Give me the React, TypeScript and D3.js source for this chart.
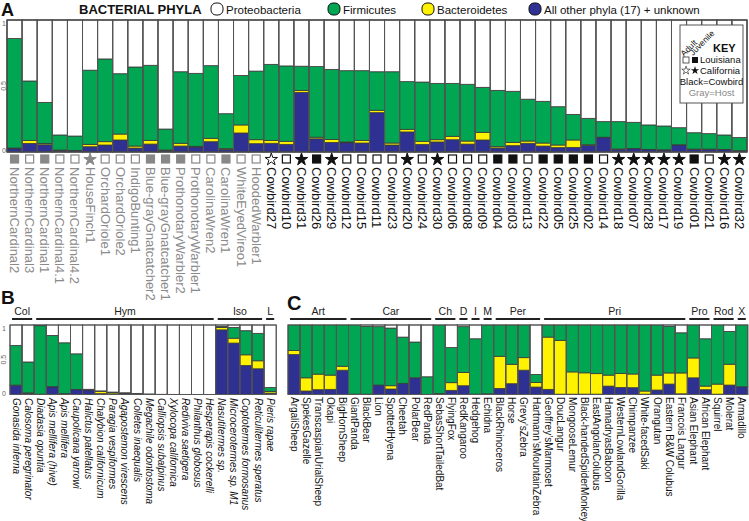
import React from 'react';
import * as d3 from 'd3';

const W = 749;
const H = 521;
const FONT = '"Liberation Sans", Arial, sans-serif';
const C_OTHER = '#2e3192';
const C_BACT = '#fff200';
const C_FIRM = '#00a651';
const C_PROTEO = '#ffffff';
const STROKE = '#3a3a3a';

// ---------- Panel A ----------
const aLabels = [
  'NorthernCardinal2', 'NorthernCardinal3', 'NorthernCardinal1', 'NorthernCardinal4.1', 'NorthernCardinal4.2',
  'HouseFinch1', 'OrchardOriole1', 'OrchardOriole2', 'IndigoBunting1', 'Blue-grayGnatcatcher2',
  'Blue-grayGnatcatcher1', 'ProthonotaryWarbler2', 'ProthonotaryWarbler1', 'CarolinaWren2', 'CarolinaWren1',
  'WhiteEyedVireo1', 'HoodedWarbler1',
  'Cowbird27', 'Cowbird10', 'Cowbird31', 'Cowbird26', 'Cowbird29', 'Cowbird12', 'Cowbird15', 'Cowbird11',
  'Cowbird23', 'Cowbird20', 'Cowbird24', 'Cowbird30', 'Cowbird06', 'Cowbird08', 'Cowbird09', 'Cowbird04',
  'Cowbird03', 'Cowbird13', 'Cowbird22', 'Cowbird05', 'Cowbird25', 'Cowbird02', 'Cowbird14', 'Cowbird18',
  'Cowbird07', 'Cowbird28', 'Cowbird17', 'Cowbird19', 'Cowbird01', 'Cowbird21', 'Cowbird16', 'Cowbird32',
];
// GF gray filled sq, GO gray outline sq, GS gray star, WS white sq, BS black sq, WT white star, BT black star
const aMarkers = [
  'GF', 'GO', 'GF', 'GO', 'GO', 'GS', 'GO', 'GO', 'GO', 'GF', 'GF', 'GF', 'GO', 'GO', 'GF', 'GO', 'GO',
  'WT', 'WS', 'BT', 'BS', 'BT', 'WS', 'WS', 'WS', 'WS', 'BT', 'WS', 'BT', 'WS', 'WS', 'WS', 'BS',
  'BS', 'WS', 'BS', 'BS', 'BS', 'BS', 'WS', 'BT', 'BT', 'BT', 'BT', 'BT', 'BS', 'WS', 'BT', 'BT',
];
const aOther = [
  0.025, 0.065, 0.055, 0.012, 0.01, 0.04, 0.053, 0.091, 0.03, 0.06, 0.012, 0.045, 0.038, 0.078, 0.02, 0.144, 0.063,
  0.066, 0.058, 0.452, 0.1, 0.073, 0.07, 0.068, 0.298, 0.053, 0.152, 0.058, 0.076, 0.093, 0.06, 0.091, 0.03,
  0.048, 0.066, 0.045, 0.033, 0.035, 0.05, 0.109, 0.02, 0.025, 0.018, 0.015, 0.053, 0.02, 0.02, 0.018, 0.008,
];
const aBact = [
  0.005, 0.022, 0.01, 0.003, 0.002, 0.018, 0.025, 0.045, 0.015, 0.028, 0.003, 0.021, 0.005, 0.026, 0.005, 0.061, 0.03,
  0.022, 0.023, 0.015, 0.012, 0.022, 0.006, 0.02, 0.018, 0.015, 0.02, 0.023, 0.017, 0.026, 0.023, 0.058, 0.01,
  0.025, 0.017, 0.023, 0.02, 0.056, 0.005, 0.003, 0.003, 0.002, 0.002, 0.002, 0.002, 0.002, 0.002, 0.002, 0.002,
];
const aFirm = [
  0.83, 0.451, 0.311, 0.114, 0.109, 0.562, 0.627, 0.457, 0.599, 0.569, 0.159, 0.542, 0.553, 0.55, 0.265, 0.375, 0.52,
  0.576, 0.571, 0.183, 0.535, 0.531, 0.54, 0.528, 0.292, 0.54, 0.361, 0.449, 0.427, 0.401, 0.43, 0.341, 0.427,
  0.387, 0.317, 0.316, 0.29, 0.194, 0.2, 0.118, 0.207, 0.198, 0.185, 0.18, 0.129, 0.124, 0.117, 0.109, 0.099,
];

// ---------- Panel B ----------
const bLabels = [
  'Gonasida inferna', 'Calosoma peregrinator', 'Diadasia opuntia', 'Apis mellifera (hive)', 'Apis mellifera',
  'Caupolicana yarrowi', 'Halictus patellatus', 'Chalybion californicum', 'Paragia vespiformes',
  'Agapostemon virescens', 'Colletes inaequalis', 'Megachile odontostoma', 'Calliopsis subalpinus',
  'Xylocopa californica', 'Rediviva saetigera', 'Philanthus globosus', 'Hesperapis cockerelli',
  'Nasutitermes sp.', 'Microcerotermes sp. M1', 'Coptotermes formosanus', 'Reticulitermes speratus', 'Pieris rapae',
];
const bOther = [0.13, 0.02, 0.005, 0.11, 0.01, 0.07, 0.065, 0.012, 0.01, 0.02, 0.012, 0.006, 0.002, 0.002, 0.001, 0.001, 0.001, 0.93, 0.74, 0.418, 0.37, 0.02];
const bBact = [0.005, 0.003, 0, 0.003, 0.002, 0.003, 0.002, 0.035, 0.02, 0.003, 0.002, 0.001, 0, 0, 0, 0, 0, 0.035, 0.07, 0.153, 0.115, 0.025];
const bFirm = [0.57, 0.445, 0.985, 0.737, 0.732, 0.512, 0.008, 0.005, 0.005, 0.002, 0.002, 0.001, 0.001, 0, 0, 0, 0, 0.015, 0.155, 0.347, 0.395, 0.055];
const bGroups = [
  { name: 'Col', n: 2 }, { name: 'Hym', n: 15 }, { name: 'Iso', n: 4 }, { name: 'L', n: 1 },
];

// ---------- Panel C ----------
const cLabels = [
  'ArgaliSheep', 'SpekesGazelle', 'TranscaspianUrialSheep', 'Okapi', 'BigHornSheep',
  'GiantPanda', 'BlackBear', 'Lion', 'SpottedHyena', 'Cheetah', 'PolarBear', 'RedPanda',
  'SebasShortTailedBat', 'FlyingFox', 'RedKangaroo', 'Hedgehog', 'Echidna',
  'BlackRhinoceros', 'Horse', 'Grevy\u2019sZebra', 'Hartmann\u2019sMountainZebra',
  'Geoffrey\u2019sMarmoset', 'DoucLangur', 'MongooseLemur', 'Black-handedSpiderMonkey', 'EastAngolanColubus',
  'HamadryasBaboon', 'WesternLowlandGorilla', 'Chimpanzee', 'White-facedSaki', 'Orangutan',
  'Eastern B&W Colubus', 'Francois Langur', 'Asian Elephant', 'African Elephant', 'Squirrel', 'Molerat', 'Armadillo',
];
const cOther = [0.574, 0.05, 0.069, 0.074, 0.35, 0.005, 0.005, 0.136, 0.079, 0.16, 0.24, 0.002, 0.01, 0.06, 0.126, 0.005, 0.01, 0.088, 0.155, 0.35, 0.107, 0.074, 0.005, 0.005, 0.005, 0.005, 0.121, 0.102, 0.098, 0.005, 0.064, 0.15, 0.01, 0.24, 0.069, 0.005, 0.136, 0.111];
const cBact = [0.06, 0.19, 0.224, 0.205, 0.057, 0, 0, 0, 0.047, 0, 0, 0, 0.002, 0.11, 0.19, 0, 0, 0.462, 0.28, 0.18, 0.067, 0.752, 0.774, 0.32, 0.307, 0.295, 0.158, 0.2, 0.197, 0.045, 0.215, 0.16, 0.3, 0.286, 0.052, 0.145, 0.3, 0];
const cFirm = [0.366, 0.76, 0.707, 0.721, 0.593, 0.995, 0.975, 0.84, 0.83, 0.666, 0.515, 0.253, 0.988, 0.505, 0.66, 0.797, 0.99, 0.45, 0.565, 0.47, 0.115, 0.174, 0.221, 0.675, 0.688, 0.7, 0.721, 0.698, 0.705, 0.95, 0.721, 0.67, 0.578, 0.474, 0.681, 0.85, 0.471, 0.889];
const cGroups = [
  { name: 'Art', n: 5 }, { name: 'Car', n: 7 }, { name: 'Ch', n: 2 }, { name: 'D', n: 1 }, { name: 'I', n: 1 },
  { name: 'M', n: 1 }, { name: 'Per', n: 4 }, { name: 'Pri', n: 12 }, { name: 'Pro', n: 2 }, { name: 'Rod', n: 2 },
  { name: 'X', n: 1 },
];

const legendItems = [
  { label: 'Proteobacteria', color: C_PROTEO },
  { label: 'Firmicutes', color: C_FIRM },
  { label: 'Bacteroidetes', color: C_BACT },
  { label: 'All other phyla (17) + unknown', color: C_OTHER },
];

const KEYS = ['other', 'bact', 'firm', 'proteo'];
const KEY_COLORS: Record<string, string> = { other: C_OTHER, bact: C_BACT, firm: C_FIRM, proteo: C_PROTEO };

function makeRows(other: number[], bact: number[], firm: number[]) {
  return other.map((o, i) => ({
    i,
    other: o,
    bact: bact[i],
    firm: firm[i],
    proteo: Math.max(0, 1 - o - bact[i] - firm[i]),
  }));
}

const stacker = d3.stack<any>().keys(KEYS);

function Bars({ rows, x, y }: { rows: any[]; x: d3.ScaleBand<number>; y: d3.ScaleLinear<number, number> }) {
  const series = stacker(rows);
  const bw = x.bandwidth();
  return (
    <g>
      {series.map((s) => (
        <g key={s.key}>
          {s.map((d: any) => {
            const h = y(d[0]) - y(d[1]);
            if (h <= 0) return null;
            return (
              <rect
                key={d.data.i}
                x={x(d.data.i)}
                y={y(d[1])}
                width={bw}
                height={h}
                fill={KEY_COLORS[s.key]}
                stroke={STROKE}
                strokeWidth={0.8}
              />
            );
          })}
        </g>
      ))}
      {rows.map((r) => (
        <rect key={'o' + r.i} x={x(r.i)} y={y(1)} width={bw} height={y(0) - y(1)} fill="none" stroke="#555" strokeWidth={1} />
      ))}
    </g>
  );
}

function Marker({ type, cx, cy }: { type: string; cx: number; cy: number }) {
  const s = 8;
  const star = d3.symbol(d3.symbolStar, 48)();
  if (type === 'GS' || type === 'WT' || type === 'BT') {
    const fill = type === 'GS' ? '#888' : type === 'BT' ? '#111' : '#fff';
    const stroke = type === 'GS' ? '#888' : '#111';
    return <path d={star || ''} transform={`translate(${cx},${cy + 0.5})`} fill={fill} stroke={stroke} strokeWidth={1} />;
  }
  let fill = '#fff';
  let stroke = '#111';
  if (type === 'GF') { fill = '#888'; stroke = '#888'; }
  if (type === 'GO') { fill = '#fff'; stroke = '#888'; }
  if (type === 'BS') { fill = '#111'; stroke = '#111'; }
  return <rect x={cx - s / 2} y={cy - s / 2} width={s} height={s} fill={fill} stroke={stroke} strokeWidth={1.2} />;
}

function Groups({ groups, x, lineY }: { groups: { name: string; n: number }[]; x: d3.ScaleBand<number>; lineY: number }) {
  let start = 0;
  const bw = x.bandwidth();
  return (
    <g>
      {groups.map((g) => {
        const x0 = (x(start) as number) + 2;
        const x1 = (x(start + g.n - 1) as number) + bw - 2;
        start += g.n;
        return (
          <g key={g.name}>
            <line x1={x0} x2={x1} y1={lineY} y2={lineY} stroke="#222" strokeWidth={2} />
            <text x={(x0 + x1) / 2} y={lineY - 4} textAnchor="middle" fontSize={10.5} fontFamily={FONT} fill="#222">
              {g.name}
            </text>
          </g>
        );
      })}
    </g>
  );
}

function RotLabels({ labels, x, y0, size, italic, colorFn }: any) {
  const bw = x.bandwidth();
  return (
    <g>
      {labels.map((l: string, i: number) => {
        const cx = x(i) + bw / 2;
        return (
          <text
            key={i}
            x={cx}
            y={y0}
            transform={`rotate(90,${cx},${y0})`}
            dy="0.35em"
            fontSize={size}
            fontFamily={FONT}
            fontStyle={italic ? 'italic' : 'normal'}
            fill={colorFn ? colorFn(i) : '#111'}
          >
            {l}
          </text>
        );
      })}
    </g>
  );
}

function YTicks({ x, y }: { x: number; y: d3.ScaleLinear<number, number> }) {
  return (
    <g fontFamily={FONT} fontSize={7} fill="#666">
      <text x={x} y={y(1) + 5.5} textAnchor="middle">1</text>
      <text x={x} y={y(0.5)} transform={`rotate(-90,${x},${y(0.5)})`} textAnchor="middle" dy="0.35em">0.5</text>
      <text x={x} y={y(0) + 1} textAnchor="middle">0</text>
    </g>
  );
}

export default function App() {
  const aRows = makeRows(aOther, aBact, aFirm);
  const bRows = makeRows(bOther, bBact, bFirm);
  const cRows = makeRows(cOther, cBact, cFirm);

  const xA = d3.scaleBand<number>().domain(d3.range(aLabels.length)).range([7, 747]).padding(0);
  const yA = d3.scaleLinear().domain([0, 1]).range([152, 20]);
  const xB = d3.scaleBand<number>().domain(d3.range(bLabels.length)).range([10, 10 + 12.1 * bLabels.length]).padding(0);
  const yBC = d3.scaleLinear().domain([0, 1]).range([394.5, 325]);
  const xC = d3.scaleBand<number>().domain(d3.range(cLabels.length)).range([288, 288 + 12.1 * cLabels.length]).padding(0);

  const legendX = [211, 328, 422, 529];

  return (
    <svg width={W} height={H} style={{ position: 'absolute', left: 0, top: 0, background: '#fff' }} xmlns="http://www.w3.org/2000/svg">
      <rect x={0} y={0} width={W} height={H} fill="#fff" />
      {/* Panel A header */}
      <text x={1} y={16} fontSize={18} fontWeight="bold" fontFamily={FONT} fill="#111">A</text>
      <text x={79} y={14} fontSize={13} fontWeight="bold" fontFamily={FONT} fill="#111">BACTERIAL PHYLA</text>
      {legendItems.map((it, i) => (
        <g key={it.label}>
          <rect x={legendX[i]} y={3} width={12} height={12} rx={5} fill={it.color} stroke="#111" strokeWidth={1} />
          <text x={legendX[i] + 15} y={13.5} fontSize={11.5} fontFamily={FONT} fill="#111">{it.label}</text>
        </g>
      ))}

      {/* Panel A bars */}
      <Bars rows={aRows} x={xA} y={yA} />
      <rect x={7} y={20} width={740} height={132} fill="none" stroke="#444" strokeWidth={1} />
      <YTicks x={4} y={yA} />
      {aMarkers.map((m, i) => (
        <Marker key={i} type={m} cx={(xA(i) as number) + xA.bandwidth() / 2} cy={159} />
      ))}
      <RotLabels labels={aLabels} x={xA} y0={167} size={13} colorFn={(i: number) => (i < 17 ? '#8a8a8a' : '#111')} />

      {/* Key */}
      <g fontFamily={FONT}>
        <rect x={680} y={25} width={63} height={78} fill="#fff" stroke="#555" strokeWidth={1} />
        <text x={684} y={57} transform="rotate(-45,684,57)" fontSize={8.5} fill="#111">Adult</text>
        <text x={693} y={56} transform="rotate(-45,693,56)" fontSize={8.5} fill="#111">Juvenile</text>
        <text x={713} y={52} fontSize={11} fontWeight="bold" fill="#111">KEY</text>
        <rect x={683} y={57} width={6} height={6} fill="#fff" stroke="#333" strokeWidth={0.8} />
        <rect x={692} y={57} width={6} height={6} fill="#111" />
        <text x={700} y={63} fontSize={9.5} fill="#111">Louisiana</text>
        <path d={d3.symbol(d3.symbolStar, 22)() || ''} transform="translate(686,70.5)" fill="#fff" stroke="#333" strokeWidth={0.7} />
        <path d={d3.symbol(d3.symbolStar, 22)() || ''} transform="translate(695,70.5)" fill="#111" />
        <text x={700} y={74} fontSize={9.5} fill="#111">California</text>
        <text x={711.5} y={85} fontSize={9.5} fill="#111" textAnchor="middle">Black=Cowbird</text>
        <text x={711.5} y={96} fontSize={9.5} fill="#888" textAnchor="middle">Gray=Host</text>
      </g>

      {/* Panel B */}
      <text x={1} y={304} fontSize={19} fontWeight="bold" fontFamily={FONT} fill="#111">B</text>
      <Groups groups={bGroups} x={xB} lineY={319} />
      <Bars rows={bRows} x={xB} y={yBC} />
      <YTicks x={4} y={yBC} />
      <RotLabels labels={bLabels} x={xB} y0={398} size={10} italic />

      {/* Panel C */}
      <text x={287} y={310} fontSize={20} fontWeight="bold" fontFamily={FONT} fill="#111">C</text>
      <Groups groups={cGroups} x={xC} lineY={319} />
      <Bars rows={cRows} x={xC} y={yBC} />
      <RotLabels labels={cLabels} x={xC} y0={397} size={10} />
    </svg>
  );
}
